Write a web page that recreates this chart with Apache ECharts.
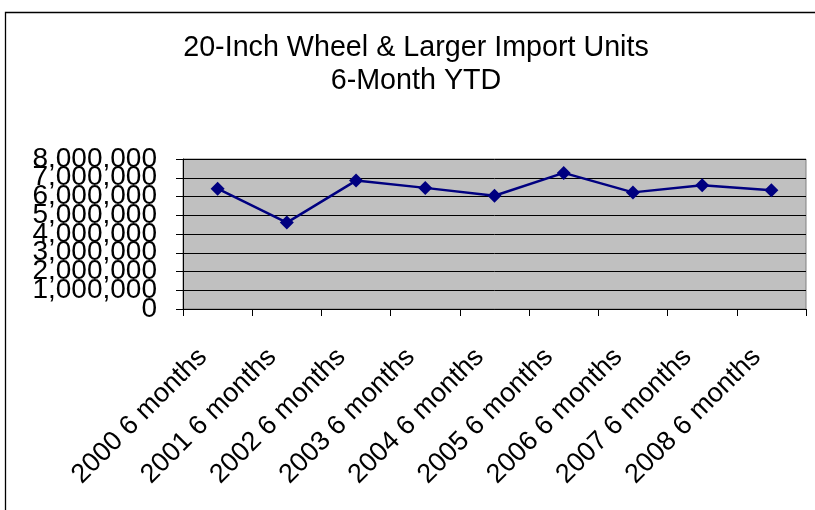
<!DOCTYPE html>
<html>
<head>
<meta charset="utf-8">
<style>
  html, body { margin: 0; padding: 0; background: #fff; }
  #chart { width: 815px; height: 510px; }
</style>
<script src="https://cdn.jsdelivr.net/npm/echarts@6/dist/echarts.min.js"></script>
</head>
<body>
<div id="chart"></div>
<script>
  // categories and values
  var periods = ['2000 6 months', '2001 6 months', '2002 6 months', '2003 6 months',
    '2004 6 months', '2005 6 months', '2006 6 months', '2007 6 months', '2008 6 months'];
  var importUnits = [6420000, 4610000, 6850000, 6460000, 6040000, 7260000, 6220000, 6600000, 6330000];
  var yTicks = { min: 0, max: 8000000, step: 1000000 };

  var chart = echarts.init(document.getElementById('chart'));
  var font = 'Liberation Sans, Arial, sans-serif';

  // the tick labels overlap in the original, echarts would drop some of them,
  // so even millions go on one y axis and odd ones on a second, label-only axis
  function fmt(odd) {
    return function (v) {
      var m = Math.round(v / yTicks.step);
      return (m % 2 === 1) === odd ? v.toLocaleString('en-US') : '';
    };
  }
  var labelStyle = { margin: 26, fontFamily: font, fontSize: 28, color: '#000' };

  var option = {
    backgroundColor: '#ffffff',
    animation: false,
    title: {
      text: '20-Inch Wheel & Larger Import Units\n6-Month YTD',
      left: 416,
      top: 32,
      textAlign: 'center',
      padding: 0,
      textStyle: {
        fontFamily: font,
        fontSize: 28.7,
        fontWeight: 'normal',
        color: '#000',
        lineHeight: 33
      }
    },
    graphic: [{
      type: 'rect',
      shape: { x: 5.5, y: 12.5, width: 900, height: 600 },
      style: { fill: 'none', stroke: '#000', lineWidth: 1.3 },
      silent: true
    }],
    grid: {
      left: 183,
      right: 9,
      top: 159,
      bottom: 201,
      show: true,
      backgroundColor: '#C0C0C0',
      borderColor: '#808080',
      borderWidth: 1
    },
    xAxis: {
      type: 'category',
      data: periods,
      boundaryGap: true,
      axisLine: { lineStyle: { color: '#000', width: 1 } },
      axisTick: { show: true, length: 7, inside: false, lineStyle: { color: '#000' } },
      axisLabel: {
        rotate: 45,
        interval: 0,
        margin: 29,
        padding: [0, 21, 0, 0],
        fontFamily: font,
        fontSize: 27,
        color: '#000'
      },
      splitLine: { show: false }
    },
    yAxis: [{
      type: 'value',
      position: 'left',
      min: yTicks.min,
      max: yTicks.max,
      interval: yTicks.step,
      axisLine: { show: true, lineStyle: { color: '#000', width: 1 } },
      axisTick: { show: true, length: 7, inside: false, lineStyle: { color: '#000' } },
      axisLabel: Object.assign({ showMinLabel: true, showMaxLabel: true, formatter: fmt(false) }, labelStyle),
      splitLine: { show: true, lineStyle: { color: '#000', width: 1 } }
    }, {
      type: 'value',
      position: 'left',
      offset: 0,
      min: yTicks.min,
      max: yTicks.max,
      interval: yTicks.step,
      axisLine: { show: false },
      axisTick: { show: false },
      axisLabel: Object.assign({ showMinLabel: false, showMaxLabel: false, formatter: fmt(true) }, labelStyle),
      splitLine: { show: false }
    }],
    series: [{
      name: 'Import Units',
      type: 'line',
      data: importUnits,
      symbol: 'diamond',
      symbolSize: 14,
      lineStyle: { color: '#000080', width: 2.5 },
      itemStyle: { color: '#000080' }
    }]
  };

  chart.setOption(option);
  window.addEventListener('resize', function () { chart.resize(); });
</script>
</body>
</html>
